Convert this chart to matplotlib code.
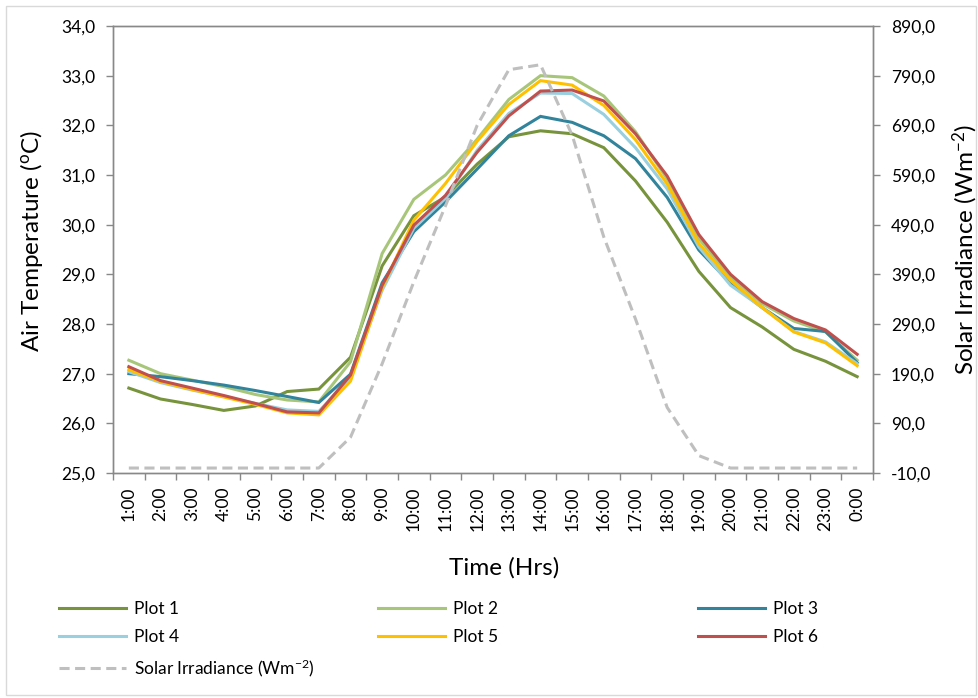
import matplotlib
matplotlib.use('Agg')
import matplotlib.pyplot as plt
from matplotlib.patches import Rectangle
from matplotlib.ticker import FixedLocator, FuncFormatter

plt.rcParams['font.family'] = ['Lato', 'DejaVu Sans']
plt.rcParams['mathtext.fontset'] = 'custom'
plt.rcParams['mathtext.rm'] = 'Lato'
plt.rcParams['mathtext.it'] = 'Lato:italic'

hours = ['1:00', '2:00', '3:00', '4:00', '5:00', '6:00', '7:00', '8:00',
         '9:00', '10:00', '11:00', '12:00', '13:00', '14:00', '15:00', '16:00',
         '17:00', '18:00', '19:00', '20:00', '21:00', '22:00', '23:00', '0:00']

plot1 = [26.71, 26.49, 26.38, 26.26, 26.35, 26.64, 26.69, 27.33, 29.17, 30.18, 30.56, 31.22,
         31.77, 31.89, 31.83, 31.55, 30.88, 30.05, 29.06, 28.33, 27.94, 27.49, 27.25, 26.94]
plot2 = [27.27, 27.00, 26.87, 26.74, 26.58, 26.47, 26.43, 27.24, 29.42, 30.51, 31.00, 31.72,
         32.52, 33.00, 32.96, 32.59, 31.87, 30.92, 29.72, 28.95, 28.41, 28.06, 27.84, 27.27]
plot3 = [27.00, 26.94, 26.86, 26.77, 26.66, 26.54, 26.42, 26.99, 28.83, 29.86, 30.46, 31.12,
         31.79, 32.18, 32.06, 31.79, 31.33, 30.55, 29.49, 28.82, 28.33, 27.91, 27.85, 27.22]
plot4 = [27.04, 26.82, 26.67, 26.54, 26.40, 26.27, 26.24, 26.93, 28.68, 29.93, 30.53, 31.50,
         32.24, 32.65, 32.64, 32.22, 31.55, 30.72, 29.55, 28.78, 28.33, 27.85, 27.64, 27.20]
plot5 = [27.08, 26.84, 26.68, 26.53, 26.38, 26.21, 26.17, 26.85, 28.73, 30.09, 30.83, 31.68,
         32.42, 32.90, 32.81, 32.40, 31.71, 30.82, 29.62, 28.88, 28.33, 27.84, 27.62, 27.16]
plot6 = [27.14, 26.86, 26.71, 26.56, 26.40, 26.23, 26.21, 26.97, 28.78, 29.99, 30.59, 31.46,
         32.19, 32.69, 32.71, 32.49, 31.83, 30.98, 29.80, 29.00, 28.45, 28.11, 27.88, 27.39]
solar = [0, 0, 0, 0, 0, 0, 0, 62, 210, 375, 528, 690, 802, 812, 670, 465, 300, 122, 25, 0, 0, 0, 0, 0]

series = [
    ('Plot 1', plot1, '#77933C'),
    ('Plot 2', plot2, '#A8C67A'),
    ('Plot 3', plot3, '#31849B'),
    ('Plot 4', plot4, '#9ACFDF'),
    ('Plot 5', plot5, '#FFC000'),
    ('Plot 6', plot6, '#C0504D'),
]

axis_grey = '#888888'
fs = 12.5
label_fs = 17.5

fig = plt.figure(figsize=(9.79, 6.98), dpi=100)
ax = fig.add_axes([113 / 979, 1 - 473 / 698, 760 / 979, 447 / 698])
ax2 = ax.twinx()

x = list(range(len(hours)))
lines = {}
for name, vals, c in series:
    lines[name], = ax.plot(x, vals, color=c, lw=2.2, label=name, solid_joinstyle='miter')
sol, = ax2.plot(x, solar, color='#BFBFBF', lw=2.2, ls=(0, (3.3, 1.8)),
                dash_capstyle='butt', label=r'Solar Irradiance (Wm$^{-2}$)')

ax.set_xlim(-0.5, len(hours) - 0.5)
ax.set_ylim(25, 34)
ax2.set_ylim(-10, 890)

comma = FuncFormatter(lambda v, p: f'{v:.1f}'.replace('.', ','))
ax.yaxis.set_major_locator(FixedLocator([25 + i for i in range(10)]))
ax.yaxis.set_major_formatter(comma)
ax2.yaxis.set_major_locator(FixedLocator([-10 + 100 * i for i in range(10)]))
ax2.yaxis.set_major_formatter(comma)

ax.set_xticks(x)
ax.set_xticklabels(hours, rotation=90)
ax.set_xticks([i - 0.5 for i in range(len(hours) + 1)], minor=True)
ax.tick_params(axis='x', which='major', length=0, pad=10, labelsize=fs)
ax.tick_params(axis='x', which='minor', length=5, width=1, color=axis_grey, direction='out')
ax.tick_params(axis='y', length=5, width=1, color=axis_grey, pad=8, labelsize=fs)
ax2.tick_params(axis='y', length=5, width=1, color=axis_grey, pad=8, labelsize=fs)

for a in (ax, ax2):
    for s in a.spines.values():
        s.set_color(axis_grey)
        s.set_linewidth(1)

ax.set_ylabel(r'Air Temperature ($^{\rm o}$C)', fontsize=label_fs)
ax.yaxis.set_label_coords(-68 / 760, 0.52)
ax2.set_ylabel(r'Solar Irradiance (Wm$^{-2}$)', fontsize=label_fs)
ax2.yaxis.set_label_coords(1 + 78 / 760, 0.5)
ax.set_xlabel('Time (Hrs)', fontsize=label_fs)
ax.xaxis.set_label_coords(0.514, -84 / 447)

# three legend columns placed like the original
columns = [
    ([lines['Plot 1'], lines['Plot 4'], sol], 52),
    ([lines['Plot 2'], lines['Plot 5']], 371),
    ([lines['Plot 3'], lines['Plot 6']], 691),
]
for handles, xpx in columns:
    fig.legend(handles=handles, loc='upper left', bbox_to_anchor=(xpx / 979, 1 - 594 / 698),
               frameon=False, fontsize=fs, handlelength=3.85, handletextpad=0.45,
               labelspacing=0.7, borderaxespad=0)

fig.add_artist(Rectangle((6 / 979, 3 / 698), 970 / 979, 689 / 698, transform=fig.transFigure,
                         fill=False, edgecolor='#D9D9D9', lw=1))

fig.savefig('out.png', dpi=100)
